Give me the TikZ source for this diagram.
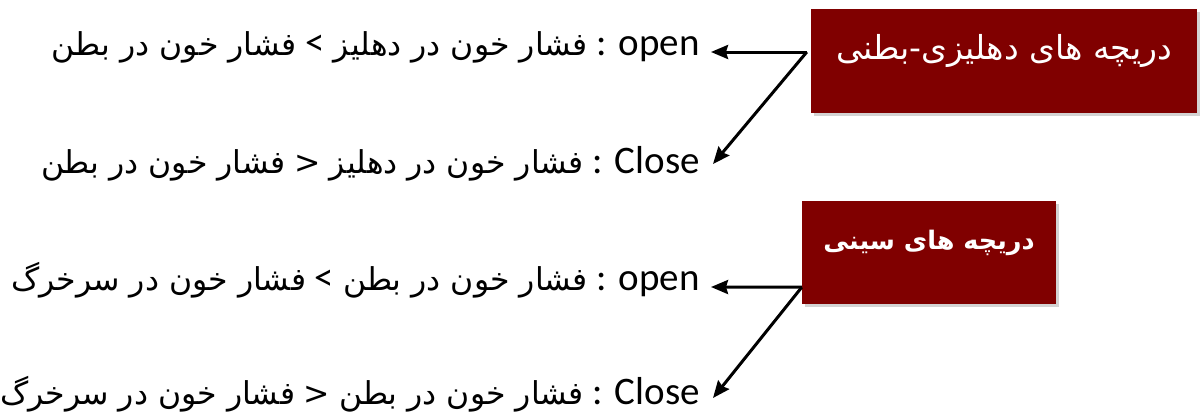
\documentclass[tikz,border=0pt]{standalone}
\usepackage{fontspec}
\setmainfont{Carlito}
\newfontfamily\fa[Script=Arabic]{DejaVu Sans}
\TeXXeTstate=1
\usetikzlibrary{positioning,arrows.meta,shadows}
\definecolor{valvered}{RGB}{128,0,0}
\newcommand{\fatext}[1]{{\fa\fontsize{31.5}{38}\selectfont\beginR #1\endR}}
\newcommand{\lessthan}{{\fa\fontsize{31.5}{38}\selectfont <}}

\begin{document}
\begin{tikzpicture}[x=1pt,y=-1pt,
  box/.style={rectangle,fill=valvered,text=white,minimum width=#1,inner sep=0pt,
    drop shadow={shadow xshift=3pt,shadow yshift=-3pt,opacity=0.35}},
  lbl/.style={anchor=base east,inner sep=0pt,font=\fontsize{39}{44}\selectfont},
  arr/.style={-{Stealth[length=17pt,width=14pt,inset=2pt]},line width=3pt}]
\useasboundingbox (0,0) rectangle (1200,418);

% the two valve boxes
\node[box=386pt,text height=50pt,text depth=54pt] (b1) at (1004,61)
  {\fa\fontsize{33}{39}\selectfont\beginR دریچه های دهلیزی-بطنی\endR};
\node[box=254pt,text height=48pt,text depth=55pt] (b2) at (929,252.5)
  {\fa\bfseries\fontsize{25.5}{30}\selectfont\beginR دریچه های سینی\endR};

% the four lines
\node[lbl] (o1) at (700,55) {\fatext{فشار خون در بطن} < \fatext{فشار خون در دهلیز} : open};
\node[lbl] (c1) at (700,173) {\fatext{فشار خون در بطن} \lessthan{} \fatext{فشار خون در دهلیز} : Close};
\node[lbl] (o2) at (700,290) {\fatext{فشار خون در سرخرگ} < \fatext{فشار خون در بطن} : open};
\node[lbl] (c2) at (700,404) {\fatext{فشار خون در سرخرگ} \lessthan{} \fatext{فشار خون در بطن} : Close};

% arrows
\coordinate (s1) at ([shift={(-4,-9)}]b1.west);
\coordinate (s2) at ([shift={(0,-17)}]b2.south west);
\coordinate (t1) at ([shift={(11,-3)}]o1.base east);
\coordinate (t2) at ([shift={(13,-9)}]c1.base east);
\coordinate (t3) at ([shift={(11,-3)}]o2.base east);
\coordinate (t4) at ([shift={(13,-6)}]c2.base east);
\draw[arr] (s1) -- (t1);
\draw[arr] (s1) -- (t2);
\draw[arr] (s2) -- (t3);
\draw[arr] (s2) -- (t4);
\end{tikzpicture}
\end{document}
